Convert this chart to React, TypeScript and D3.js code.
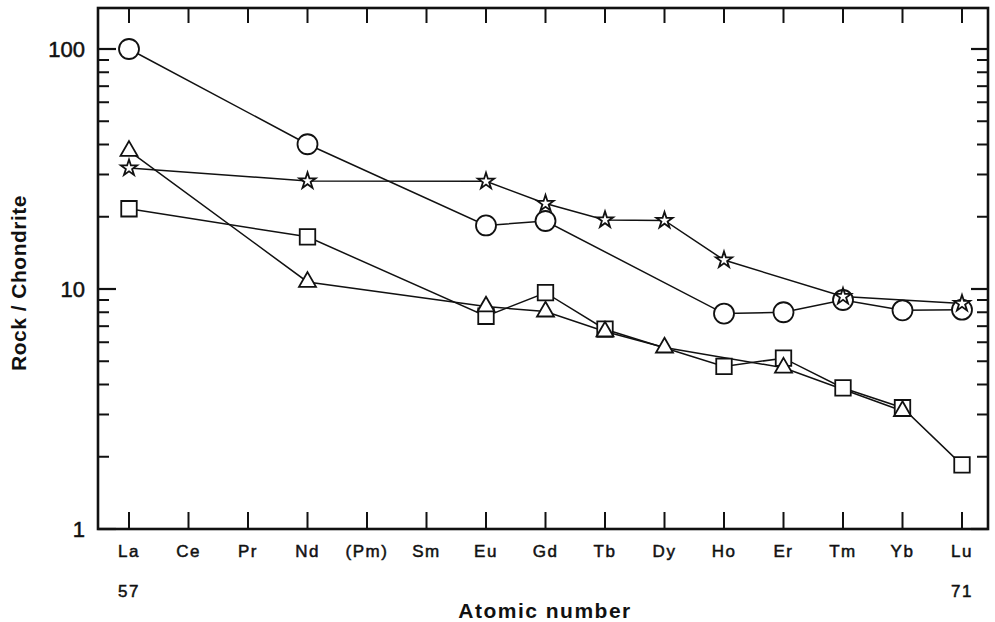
import React from "react";
import * as d3 from "d3";

const elements = ["La", "Ce", "Pr", "Nd", "(Pm)", "Sm", "Eu", "Gd", "Tb", "Dy", "Ho", "Er", "Tm", "Yb", "Lu"];
const atomicNumbers = [57, 58, 59, 60, 61, 62, 63, 64, 65, 66, 67, 68, 69, 70, 71];
const endLabels = [57, 71];
const majorTicks = [1, 10, 100];
const minorTicks = [2, 3, 4, 5, 6, 7, 8, 9, 20, 30, 40, 50, 60, 70, 80, 90];

// Rock / Chondrite, one value per element (null = not analysed)
const circleValues = [100, null, null, 40.1, null, null, 18.4, 19.2, null, null, 7.9, 8.0, 9.0, 8.15, 8.2];
const starValues = [31.9, null, null, 28.2, null, null, 28.1, 22.7, 19.4, 19.3, 13.2, null, 9.3, null, 8.7];
const triangleValues = [37.6, null, null, 10.7, null, null, 8.45, 8.05, 6.65, 5.7, null, 4.7, null, 3.1, null];
const squareValues = [21.6, null, null, 16.5, null, null, 7.7, 9.65, 6.8, null, 4.76, 5.15, 3.87, 3.2, 1.85];

const width = 995;
const height = 622;
const frame = { left: 98, right: 988, top: 8, bottom: 529 };
const ink = "#111";

const x = d3.scaleLinear().domain([57, 71]).range([129, 962]);
const y = d3.scaleLog().domain([1, 10]).range([frame.bottom, 289]);

type Pt = { n: number; v: number };

const toPoints = (vals: (number | null)[]): Pt[] =>
  vals
    .map((v, i) => ({ n: atomicNumbers[i], v }))
    .filter((d): d is Pt => d.v !== null);

const line = d3
  .line<Pt>()
  .x((d) => x(d.n))
  .y((d) => y(d.v));

const starPath = d3.symbol().type(d3.symbolStar).size(82)()!;
const triPath = d3.symbol().type(d3.symbolTriangle).size(125)()!;
const squarePath = d3.symbol().type(d3.symbolSquare).size(240)()!;

const series = [
  { key: "circle", pts: toPoints(circleValues) },
  { key: "star", pts: toPoints(starValues) },
  { key: "square", pts: toPoints(squareValues) },
  { key: "triangle", pts: toPoints(triangleValues) },
];

const Marker = ({ kind, d }: { kind: string; d: Pt }) => {
  const tx = x(d.n);
  const ty = y(d.v);
  const common = { fill: "#fff", stroke: ink, strokeWidth: 1.8 };
  if (kind === "circle") return <circle cx={tx} cy={ty} r={10} {...common} />;
  const p = kind === "star" ? starPath : kind === "triangle" ? triPath : squarePath;
  return <path d={p} transform={`translate(${tx},${ty})`} {...common} />;
};

const App = () => {
  const font = "'Liberation Sans', Arial, sans-serif";
  const heavy = { stroke: ink, strokeWidth: 0.5 };
  return (
    <svg width={width} height={height} style={{ position: "absolute", left: 0, top: 0, background: "#fff" }}>
      <rect x={0} y={0} width={width} height={height} fill="#fff" />

      {/* frame */}
      <rect
        x={frame.left}
        y={frame.top}
        width={frame.right - frame.left}
        height={frame.bottom - frame.top}
        fill="none"
        stroke={ink}
        strokeWidth={2.6}
      />

      {/* category ticks, top and bottom */}
      {atomicNumbers.map((n) => (
        <g key={n}>
          <line x1={x(n)} x2={x(n)} y1={frame.bottom} y2={frame.bottom - 17} stroke={ink} strokeWidth={2} />
          <line x1={x(n)} x2={x(n)} y1={frame.top} y2={frame.top + 15} stroke={ink} strokeWidth={2} />
        </g>
      ))}

      {/* log ticks, left and right */}
      {majorTicks.map((t) => (
        <g key={t}>
          <line x1={frame.left} x2={frame.left + 18} y1={y(t)} y2={y(t)} stroke={ink} strokeWidth={2.2} />
          <line x1={frame.right} x2={frame.right - 17} y1={y(t)} y2={y(t)} stroke={ink} strokeWidth={2.2} />
          <text
            x={85}
            y={y(t)}
            textAnchor="end"
            dominantBaseline="central"
            fontFamily={font}
            fontSize={22}
            fill={ink}
            {...heavy}
          >
            {t}
          </text>
        </g>
      ))}
      {minorTicks.map((t) => (
        <g key={t}>
          <line x1={frame.left} x2={frame.left + 11} y1={y(t)} y2={y(t)} stroke={ink} strokeWidth={2} />
          <line x1={frame.right} x2={frame.right - 11} y1={y(t)} y2={y(t)} stroke={ink} strokeWidth={2} />
        </g>
      ))}

      {/* element labels */}
      {elements.map((el, i) => (
        <text
          key={el}
          x={x(atomicNumbers[i])}
          y={557}
          textAnchor="middle"
          fontFamily={font}
          fontSize={17}
          letterSpacing={1.5}
          fill={ink}
          {...heavy}
        >
          {el}
        </text>
      ))}
      {endLabels.map((n) => (
        <text key={n} x={x(n)} y={597} textAnchor="middle" fontFamily={font} fontSize={17} letterSpacing={1.5} fill={ink} {...heavy}>
          {n}
        </text>
      ))}

      <text x={545} y={618} textAnchor="middle" fontFamily={font} fontSize={21} fontWeight="bold" letterSpacing={1.5} fill={ink}>
        Atomic number
      </text>
      <text
        transform={`translate(26,${283}) rotate(-90)`}
        textAnchor="middle"
        fontFamily={font}
        fontSize={21}
        fontWeight="bold"
        letterSpacing={0.5}
        fill={ink}
      >
        Rock / Chondrite
      </text>

      {/* series lines */}
      {series.map((s) => (
        <path key={s.key} d={line(s.pts) ?? ""} fill="none" stroke={ink} strokeWidth={1.5} />
      ))}
      {/* markers */}
      {series.map((s) => (
        <g key={s.key}>
          {s.pts.map((d) => (
            <Marker key={d.n} kind={s.key} d={d} />
          ))}
        </g>
      ))}
    </svg>
  );
};

export default App;
